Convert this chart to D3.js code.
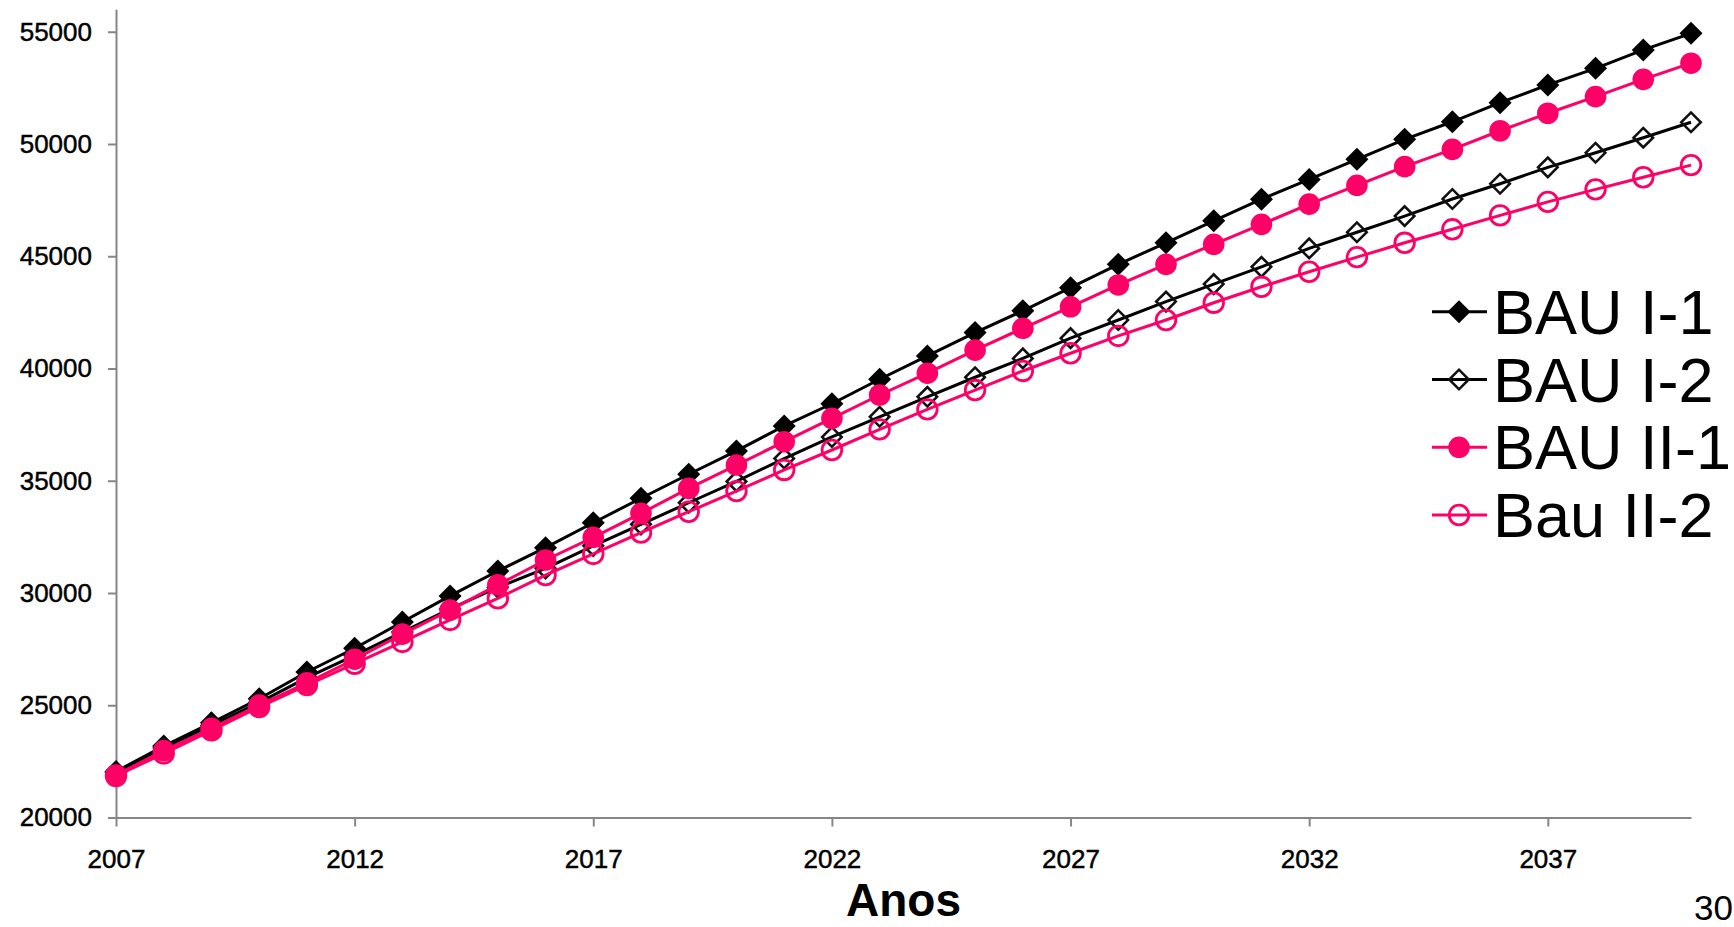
<!DOCTYPE html>
<html>
<head>
<meta charset="utf-8">
<script src="https://cdn.jsdelivr.net/npm/d3@7/dist/d3.min.js"></script>
<style>
  html, body { margin: 0; padding: 0; background: #fff; }
  svg { display: block; font-family: "Liberation Sans", Arial, sans-serif; }
</style>
</head>
<body>
<svg id="chart" width="1734" height="927"></svg>
<script>
// Years on the horizontal axis
const years = [2007, 2008, 2009, 2010, 2011, 2012, 2013, 2014, 2015, 2016, 2017,
               2018, 2019, 2020, 2021, 2022, 2023, 2024, 2025, 2026, 2027, 2028,
               2029, 2030, 2031, 2032, 2033, 2034, 2035, 2036, 2037, 2038, 2039, 2040];

// Scenario projections
const bauI1 = [22050, 23180, 24220, 25290, 26480, 27540, 28710, 29870, 30980, 32020, 33130,
               34220, 35290, 36330, 37440, 38430, 39520, 40560, 41600, 42570, 43600, 44640,
               45600, 46580, 47540, 48420, 49320, 50210, 50990, 51840, 52630, 53370, 54190, 54930];
const bauI2 = [22000, 23100, 24100, 25120, 26230, 27220, 28260, 29290, 30250, 31100, 32100,
               33060, 34020, 34970, 35990, 36950, 37850, 38740, 39610, 40450, 41350, 42160,
               42980, 43760, 44530, 45350, 46070, 46790, 47550, 48230, 48960, 49610, 50280, 50970];
const bauII1 = [21890, 22980, 23970, 25010, 26000, 27050, 28170, 29240, 30360, 31470, 32480,
                33550, 34660, 35700, 36740, 37780, 38820, 39790, 40820, 41790, 42750, 43720,
                44640, 45530, 46420, 47320, 48160, 48990, 49760, 50590, 51370, 52110, 52880, 53600];
const bauII2 = [21850, 22850, 23880, 24920, 25900, 26850, 27820, 28800, 29760, 30800, 31740,
                32690, 33620, 34540, 35480, 36370, 37290, 38180, 39040, 39890, 40680, 41450,
                42160, 42930, 43640, 44310, 44960, 45600, 46200, 46820, 47420, 47980, 48520, 49060];

const seriesNames = ["BAU I-1", "BAU I-2", "BAU II-1", "Bau II-2"];
const xTicks = [2007, 2012, 2017, 2022, 2027, 2032, 2037];
const yTicks = [20000, 25000, 30000, 35000, 40000, 45000, 50000, 55000];

const PINK = "#ff0066";
const series = [
  { name: seriesNames[0], values: bauI1,  color: "#000", marker: "diamond", filled: true },
  { name: seriesNames[1], values: bauI2,  color: "#000", marker: "diamond", filled: false },
  { name: seriesNames[2], values: bauII1, color: PINK,   marker: "circle",  filled: true },
  { name: seriesNames[3], values: bauII2, color: PINK,   marker: "circle",  filled: false }
];

const svg = d3.select("#chart");
svg.append("rect").attr("width", 1734).attr("height", 927).attr("fill", "#fff");

const x = d3.scaleLinear().domain([2007, 2040]).range([116, 1691]);
const y = d3.scaleLinear().domain([20000, 56000]).range([817.5, 9.3]);

const AXIS = "#868686";

function styleTickText(g) {
  g.selectAll(".tick text")
    .attr("font-size", 26)
    .attr("fill", "#000")
    .attr("stroke", "#000")
    .attr("stroke-width", 0.45)
    .attr("font-family", "'Liberation Sans', Arial, sans-serif");
}

// Y axis
const gy = svg.append("g")
  .attr("transform", "translate(116,0)")
  .call(d3.axisLeft(y).tickValues(yTicks).tickSize(8).tickSizeOuter(0).tickPadding(16)
        .tickFormat(d3.format("d")));
gy.select(".domain").attr("stroke", AXIS).attr("stroke-width", 2);
gy.selectAll(".tick line").attr("stroke", AXIS).attr("stroke-width", 2);
styleTickText(gy);

// X axis
const gx = svg.append("g")
  .attr("transform", "translate(0,817.5)")
  .call(d3.axisBottom(x).tickValues(xTicks).tickSize(9).tickSizeOuter(0).tickPadding(23)
        .tickFormat(d3.format("d")));
gx.select(".domain").attr("stroke", AXIS).attr("stroke-width", 2);
gx.selectAll(".tick line").attr("stroke", AXIS).attr("stroke-width", 2);
styleTickText(gx);

// Axis title
svg.append("text")
  .attr("x", (x(2007) + x(2040)) / 2)
  .attr("y", 916)
  .attr("text-anchor", "middle")
  .attr("font-size", 46)
  .attr("font-weight", "bold")
  .attr("fill", "#000")
  .text("Anos");

// Page number
svg.append("text")
  .attr("x", 1694)
  .attr("y", 920)
  .attr("font-size", 35)
  .attr("fill", "#000")
  .text("30");

// Marker drawing helper
function drawMarker(sel, s) {
  if (s.marker === "diamond") {
    const size = s.filled ? 265 : 190;
    sel.append("path")
      .attr("d", d3.symbol(d3.symbolSquare, size)())
      .attr("transform", "rotate(45)")
      .attr("fill", s.filled ? s.color : "none")
      .attr("stroke", s.filled ? "none" : "#111")
      .attr("stroke-width", s.filled ? 0 : 2.6);
  } else {
    sel.append("circle")
      .attr("r", s.filled ? 10.8 : 9.8)
      .attr("fill", s.filled ? s.color : "none")
      .attr("stroke", s.filled ? "none" : s.color)
      .attr("stroke-width", s.filled ? 0 : 2.8);
  }
}

const line = d3.line().x((d, i) => x(years[i])).y(d => y(d));

// Series: line then markers, later series drawn on top
series.forEach(s => {
  const g = svg.append("g");
  g.append("path")
    .attr("d", line(s.values))
    .attr("fill", "none")
    .attr("stroke", s.color)
    .attr("stroke-width", 3)
    .attr("stroke-linejoin", "round");
  g.selectAll("g.m")
    .data(s.values)
    .join("g")
    .attr("class", "m")
    .attr("transform", (d, i) => `translate(${x(years[i])},${y(d)})`)
    .each(function () { drawMarker(d3.select(this), s); });
});

// Legend
const legendY = [311.7, 379.5, 447.3, 515];
series.forEach((s, i) => {
  const g = svg.append("g").attr("transform", `translate(0,${legendY[i]})`);
  g.append("line")
    .attr("x1", 1432).attr("x2", 1487)
    .attr("y1", 0).attr("y2", 0)
    .attr("stroke", s.color).attr("stroke-width", 3);
  const m = g.append("g").attr("transform", "translate(1459,0)");
  drawMarker(m, s);
  g.append("text")
    .attr("x", 1493)
    .attr("y", 22)
    .attr("font-size", 63)
    .attr("fill", "#000")
    .text(s.name);
});
</script>
</body>
</html>
